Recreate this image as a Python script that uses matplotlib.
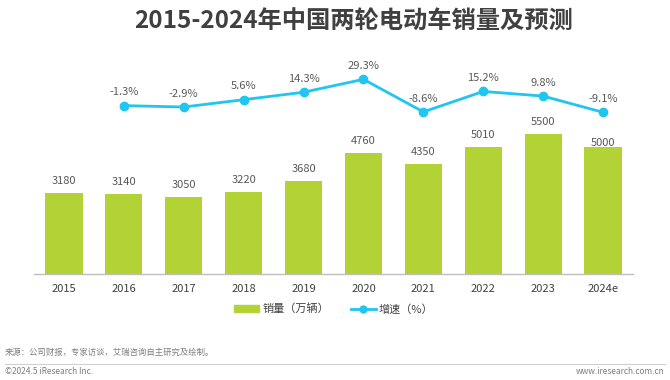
import matplotlib
matplotlib.use('Agg')
import matplotlib.pyplot as plt
from matplotlib.lines import Line2D
from matplotlib.patches import Patch

plt.rcParams['font.family'] = ['Noto Sans CJK SC', 'DejaVu Sans']

# 数据
years = ['2015', '2016', '2017', '2018', '2019', '2020', '2021', '2022', '2023', '2024e']
sales = [3180, 3140, 3050, 3220, 3680, 4760, 4350, 5010, 5500, 5000]
growth_years = years[1:]
growth = [-1.3, -2.9, 5.6, 14.3, 29.3, -8.6, 15.2, 9.8, -9.1]

bar_c = '#b2d235'
line_c = '#20c5f0'
txt_c = '#595959'

W, H = 670, 380
fig = plt.figure(figsize=(W / 100, H / 100), dpi=100)

# 坐标轴位置 (像素)
ax = fig.add_axes([34 / W, (H - 274) / H, 599 / W, 214 / H])
x = list(range(len(years)))
ax.bar(x, sales, width=0.62, color=bar_c, zorder=2)
ax.set_xlim(-0.5, 9.5)
ax.set_ylim(0, 8425)
for s in ['top', 'right', 'left']:
    ax.spines[s].set_visible(False)
ax.spines['bottom'].set_color('#bfbfbf')
ax.spines['bottom'].set_linewidth(1)
ax.set_yticks([])
ax.set_xticks(x)
ax.set_xticklabels(years, fontsize=8, color='#404040')
ax.tick_params(axis='x', length=0, pad=7)

for i, v in enumerate(sales):
    off = 5 if i < len(sales) - 1 else -1
    ax.annotate(str(v), (i, v), xytext=(0, off), textcoords='offset points',
                ha='center', va='bottom', fontsize=8, color=txt_c)

# 增速折线
ax2 = ax.twinx()
ax2.set_ylim(-197.3, 51.8)
ax2.axis('off')
gx = [years.index(y) for y in growth_years]
ax2.plot(gx, growth, color=line_c, lw=2, marker='o', ms=6, zorder=3)
for xi, g in zip(gx, growth):
    ax2.annotate(f'{g}%', (xi, g), xytext=(0, 6), textcoords='offset points',
                 ha='center', va='bottom', fontsize=8, color=txt_c)

# 标题
fig.text(354 / W, 1 - 22 / H, '2015-2024年中国两轮电动车销量及预测', ha='center', va='center',
         fontsize=17.5, fontweight='bold', color='#404040')

# 图例
handles = [Patch(color=bar_c, label='销量（万辆）'),
           Line2D([0], [0], color=line_c, lw=2, marker='o', ms=5, label='增速（%）')]
fig.legend(handles=handles, loc='center', bbox_to_anchor=(334 / W, 1 - 309 / H), ncol=2,
           frameon=False, fontsize=8, handlelength=2.2, handleheight=0.7, columnspacing=2,
           handletextpad=0.3, labelcolor='#404040')

# 底部来源
fig.text(5 / W, 1 - 352 / H, '来源：公司财报，专家访谈，艾瑞咨询自主研究及绘制。', ha='left', va='center',
         fontsize=6, color='#7f7f7f')
fig.add_artist(Line2D([5 / W, 665 / W], [1 - 364 / H, 1 - 364 / H], color='#d0d0d0', lw=0.8))
fig.text(5 / W, 1 - 372 / H, '©2024.5 iResearch Inc.', ha='left', va='center', fontsize=6, color='#7f7f7f')
fig.text(665 / W, 1 - 372 / H, 'www.iresearch.com.cn', ha='right', va='center', fontsize=6, color='#7f7f7f')

fig.savefig('out.png', dpi=100)
